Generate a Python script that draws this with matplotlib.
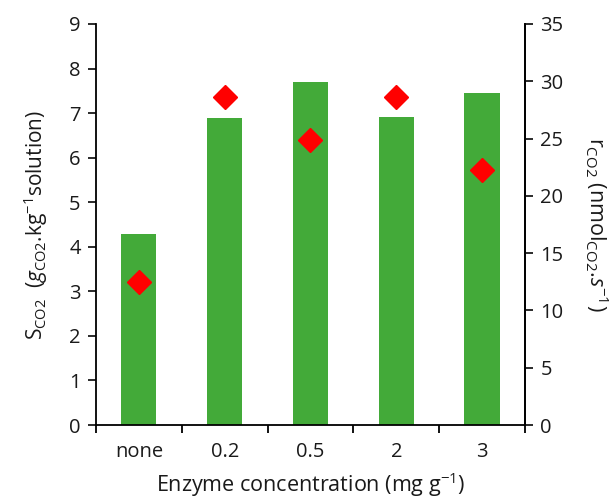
import matplotlib
matplotlib.use("Agg")
import matplotlib.pyplot as plt
import numpy as np

categories = ["none", "0.2", "0.5", "2", "3"]
s_co2 = [4.29, 6.88, 7.69, 6.91, 7.46]
r_co2 = [12.5, 28.6, 24.9, 28.6, 22.3]
left_ticks = [0, 1, 2, 3, 4, 5, 6, 7, 8, 9]
right_ticks = [0, 5, 10, 15, 20, 25, 30, 35]

plt.rcParams['font.family'] = ['Open Sans', 'DejaVu Sans']
plt.rcParams['mathtext.fontset'] = 'custom'
plt.rcParams['mathtext.rm'] = 'Open Sans'
plt.rcParams['mathtext.it'] = 'Open Sans:italic'
plt.rcParams['mathtext.bf'] = 'Open Sans:bold'

txt = '#1a1a1a'
fig = plt.figure(figsize=(6.13, 5.03), dpi=100)
ax = fig.add_axes([0.1566, 0.155, 0.6998, 0.7973])
x = np.arange(len(categories))
ax.bar(x, s_co2, width=0.41, color='#43AA39', zorder=2)
ax.set_xlim(-0.5, len(categories) - 0.5)
ax.set_ylim(0, 9)
ax.set_yticks(left_ticks)
ax.set_xticks(x)
ax.set_xticklabels(categories)
ax.set_xticks(np.arange(-0.5, len(categories), 1.0), minor=True)
ax.tick_params(axis='x', which='major', length=0, pad=12, labelsize=14.5, colors=txt)
ax.tick_params(axis='x', which='minor', length=6, width=1.3, direction='out')
ax.tick_params(axis='y', length=6, width=1.3, labelsize=14.5, pad=5, colors=txt)
for sp in ['left', 'bottom', 'right']:
    ax.spines[sp].set_linewidth(1.3)
ax.spines['top'].set_visible(False)

ax2 = ax.twinx()
ax2.plot(x, r_co2, linestyle='none', marker='D', markersize=12.5, color='#FF0000', zorder=3)
ax2.set_ylim(0, 35)
ax2.set_yticks(right_ticks)
ax2.tick_params(axis='y', length=6, width=1.3, labelsize=14.5, pad=5, colors=txt)
ax2.spines['top'].set_visible(False)
ax2.spines['right'].set_linewidth(1.3)
ax2.spines['left'].set_visible(False)
ax2.spines['bottom'].set_visible(False)

ax.set_ylabel(r'S$_{\mathrm{CO2}}$  ($\mathbf{\mathit{g}}_{\mathrm{CO2}}$.kg$^{\mathrm{-1}}$solution)',
              fontsize=15, labelpad=14, color=txt)
ax2.set_ylabel(r'r$_{\mathrm{CO2}}$ (nmol$_{\mathrm{CO2}}$.$\mathit{s}^{\mathrm{-1}}$)',
               fontsize=15.5, rotation=270, labelpad=34, color=txt)
ax.set_xlabel(r'Enzyme concentration (mg g$^{\mathrm{-1}}$)', fontsize=15.5, labelpad=6, color=txt)

fig.savefig('out.png', dpi=100)
